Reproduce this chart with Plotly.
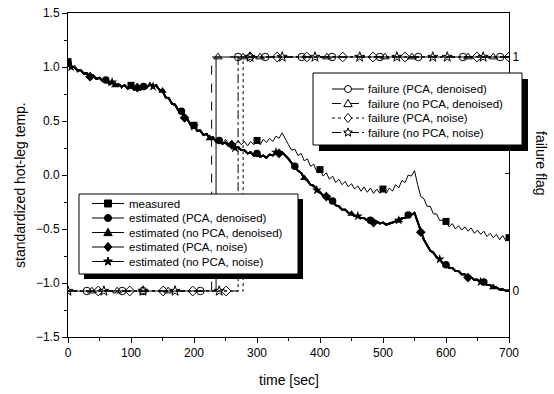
import math
import plotly.graph_objects as go

# ---------------- data ----------------
time = list(range(0, 701, 5))

estimated = [
    1.04, 1.00, 1.00, 0.97, 0.97, 0.94, 0.94, 0.91, 0.92, 0.89,
    0.90, 0.87, 0.88, 0.85, 0.86, 0.83, 0.84, 0.82, 0.83, 0.80,
    0.82, 0.79, 0.81, 0.79, 0.82, 0.81, 0.84, 0.82, 0.83, 0.79,
    0.78, 0.72, 0.71, 0.66, 0.65, 0.60, 0.59, 0.53, 0.51, 0.46,
    0.45, 0.41, 0.41, 0.37, 0.38, 0.34, 0.35, 0.31, 0.32, 0.29,
    0.30, 0.27, 0.28, 0.25, 0.26, 0.23, 0.23, 0.20, 0.21, 0.18,
    0.20, 0.17, 0.18, 0.16, 0.19, 0.18, 0.21, 0.20, 0.21, 0.18,
    0.15, 0.11, 0.08, 0.04, 0.02, -0.03, -0.05, -0.09, -0.10, -0.14,
    -0.16, -0.19, -0.20, -0.23, -0.24, -0.28, -0.29, -0.32, -0.32, -0.35,
    -0.36, -0.38, -0.38, -0.40, -0.40, -0.42, -0.42, -0.44, -0.43, -0.45,
    -0.44, -0.46, -0.45, -0.44, -0.43, -0.42, -0.40, -0.40, -0.37, -0.37,
    -0.35, -0.43, -0.53, -0.60, -0.65, -0.70, -0.72, -0.76, -0.78, -0.82,
    -0.83, -0.86, -0.86, -0.89, -0.89, -0.92, -0.92, -0.95, -0.95, -0.97,
    -0.97, -0.99, -0.99, -1.02, -1.02, -1.04, -1.04, -1.06, -1.06, -1.07,
    -1.07,
]

measured = [
    1.05, 0.98, 1.01, 0.95, 0.98, 0.93, 0.95, 0.89, 0.93, 0.88,
    0.91, 0.86, 0.89, 0.83, 0.87, 0.82, 0.85, 0.80, 0.84, 0.79,
    0.83, 0.78, 0.82, 0.78, 0.83, 0.80, 0.86, 0.81, 0.84, 0.78,
    0.79, 0.71, 0.72, 0.65, 0.66, 0.59, 0.60, 0.52, 0.52, 0.45,
    0.46, 0.40, 0.42, 0.36, 0.39, 0.33, 0.36, 0.31, 0.34, 0.29,
    0.33, 0.29, 0.32, 0.28, 0.32, 0.28, 0.31, 0.27, 0.31, 0.28,
    0.32, 0.28, 0.33, 0.30, 0.34, 0.31, 0.36, 0.34, 0.39, 0.33,
    0.28, 0.23, 0.24, 0.18, 0.20, 0.13, 0.15, 0.08, 0.10, 0.03,
    0.05, -0.01, 0.02, -0.04, -0.01, -0.07, -0.04, -0.09, -0.06, -0.11,
    -0.08, -0.13, -0.10, -0.15, -0.11, -0.16, -0.12, -0.17, -0.13, -0.17,
    -0.13, -0.17, -0.12, -0.15, -0.09, -0.12, -0.05, -0.07, 0.00, -0.01,
    0.04, -0.09, -0.20, -0.22, -0.29, -0.29, -0.36, -0.36, -0.42, -0.42,
    -0.43, -0.48, -0.45, -0.50, -0.47, -0.51, -0.48, -0.52, -0.49, -0.54,
    -0.51, -0.55, -0.52, -0.57, -0.54, -0.58, -0.55, -0.60, -0.56, -0.61,
    -0.58,
]

# failure flag series: time at which the flag switches from 0 to 1
fail_time_pca_den = 235
fail_time_nopca_den = 228
fail_time_pca_noise = 278
fail_time_nopca_noise = 270

# sampled times shown with symbols on each failure flag series
fail_marks_pca_den = [30, 86, 119, 210, 270, 313, 371, 419, 495, 556, 627, 686]
fail_marks_nopca_den = [38, 78, 159, 238, 278, 305, 411, 503, 546, 635, 675]
fail_marks_pca_noise = [48, 98, 151, 198, 251, 289, 332, 379, 436, 484, 535, 649, 700]
fail_marks_nopca_noise = [0, 57, 119, 170, 240, 289, 340, 392, 463, 522, 579, 602, 659]

legend1_names = ["measured", "estimated (PCA, denoised)", "estimated (no PCA, denoised)",
                 "estimated (PCA, noise)", "estimated (no PCA, noise)"]
legend2_names = ["failure (PCA, denoised)", "failure (no PCA, denoised)",
                 "failure (PCA, noise)", "failure (no PCA, noise)"]

x_ticks = [0, 100, 200, 300, 400, 500, 600, 700]
y_ticks = [-1.5, -1.0, -0.5, 0.0, 0.5, 1.0, 1.5]

# ---------------- figure ----------------
W, H = 554, 394
L, R, T, B = 68, 45, 13, 57
PW, PH = W - L - R, H - T - B


def px2x(px):
    return (px - L) / PW


def px2y(py):
    return (H - B - py) / PH


FONT = "Arial, Liberation Sans, sans-serif"
fig = go.Figure()

# estimated curves (4 overlapping variants) with symbols every few samples
est_styles = [
    ("circle", 0, 12),
    ("triangle-up", 0, 15),
    ("diamond", 7, 15),
    ("star", 1, 13),
]
for sym, off, step in est_styles:
    fig.add_trace(go.Scatter(x=time, y=estimated, mode="lines",
                             line=dict(color="black", width=1.8), showlegend=False,
                             hoverinfo="skip"))
for sym, off, step in est_styles:
    idx = list(range(off, len(time), step))
    fig.add_trace(go.Scatter(x=[time[i] for i in idx], y=[estimated[i] for i in idx],
                             mode="markers", showlegend=False, hoverinfo="skip",
                             marker=dict(symbol=sym, size=7.5, color="black",
                                         line=dict(width=0))))

# measured
fig.add_trace(go.Scatter(x=time, y=measured, mode="lines",
                         line=dict(color="black", width=1), showlegend=False))
idx = list(range(0, len(time), 20))
fig.add_trace(go.Scatter(x=[time[i] for i in idx], y=[measured[i] for i in idx],
                         mode="markers", showlegend=False,
                         marker=dict(symbol="square", size=7, color="black")))

# failure flags (right axis)
fail_specs = [
    (fail_time_pca_den, fail_marks_pca_den, "solid", "circle"),
    (fail_time_nopca_den, fail_marks_nopca_den, "dash", "triangle-up"),
    (fail_time_pca_noise, fail_marks_pca_noise, "dot", "diamond"),
    (fail_time_nopca_noise, fail_marks_nopca_noise, "dashdot", "star"),
]
for ft, marks, dash, sym in fail_specs:
    fig.add_trace(go.Scatter(x=[0, ft, 700], y=[0, 1, 1], mode="lines", line_shape="hv",
                             line=dict(color="black", width=1, dash=dash),
                             yaxis="y2", showlegend=False))
for ft, marks, dash, sym in fail_specs:
    fig.add_trace(go.Scatter(x=marks, y=[1 if m >= ft else 0 for m in marks], mode="markers",
                             yaxis="y2", showlegend=False,
                             marker=dict(symbol=sym + "-open", size=7.5, color="black",
                                         line=dict(width=1, color="black"))))

# ---------------- hand-drawn legends (shapes + annotations) ----------------
shapes = []
annotations = []


def pt(px, py):
    return f"{px2x(px):.6f},{px2y(py):.6f}"


def glyph(sym, cx, cy, s, filled):
    fill = "black" if filled else "white"
    base = dict(xref="paper", yref="paper", layer="above", fillcolor=fill,
                line=dict(color="black", width=1))
    if sym == "square":
        return dict(type="rect", x0=px2x(cx - s / 2), x1=px2x(cx + s / 2),
                    y0=px2y(cy + s / 2), y1=px2y(cy - s / 2), **base)
    if sym == "circle":
        return dict(type="circle", x0=px2x(cx - s / 2), x1=px2x(cx + s / 2),
                    y0=px2y(cy + s / 2), y1=px2y(cy - s / 2), **base)
    if sym == "triangle-up":
        pts = [(cx, cy - 0.6 * s), (cx + 0.6 * s, cy + 0.45 * s), (cx - 0.6 * s, cy + 0.45 * s)]
    elif sym == "diamond":
        pts = [(cx, cy - 0.65 * s), (cx + 0.55 * s, cy), (cx, cy + 0.65 * s), (cx - 0.55 * s, cy)]
    else:  # star
        pts = []
        for k in range(10):
            r = 0.65 * s if k % 2 == 0 else 0.27 * s
            a = -math.pi / 2 + k * math.pi / 5
            pts.append((cx + r * math.cos(a), cy + r * math.sin(a)))
    path = "M" + " L".join(pt(x, y) for x, y in pts) + " Z"
    return dict(type="path", path=path, **base)


def draw_legend(box, names, syms, dashes, filled, rows, line_x, text_x, shadow):
    x0, x1, y0, y1 = box
    shapes.append(dict(type="rect", xref="paper", yref="paper", layer="above",
                       x0=px2x(x0 + shadow), x1=px2x(x1 + shadow),
                       y0=px2y(y1 + shadow), y1=px2y(y0 + shadow),
                       fillcolor="black", line=dict(width=0)))
    shapes.append(dict(type="rect", xref="paper", yref="paper", layer="above",
                       x0=px2x(x0), x1=px2x(x1), y0=px2y(y1), y1=px2y(y0),
                       fillcolor="white", line=dict(color="black", width=1)))
    for name, sym, dash, cy in zip(names, syms, dashes, rows):
        shapes.append(dict(type="line", xref="paper", yref="paper", layer="above",
                           x0=px2x(line_x[0]), x1=px2x(line_x[1]), y0=px2y(cy), y1=px2y(cy),
                           line=dict(color="black", width=1, dash=dash)))
        shapes.append(glyph(sym, (line_x[0] + line_x[1]) / 2, cy, 7, filled))
        annotations.append(dict(text=name, x=px2x(text_x), y=px2y(cy), xref="paper",
                                yref="paper", showarrow=False, xanchor="left",
                                yanchor="middle",
                                font=dict(family=FONT, size=11.5, color="black")))


draw_legend((79, 298, 194, 274), legend1_names,
            ["square", "circle", "triangle-up", "diamond", "star"],
            ["solid"] * 5, True, [203.5, 218, 232.5, 247, 261.5], (92, 124), 127, 5)
draw_legend((313, 522, 73, 145), legend2_names,
            [s[3] for s in fail_specs], [s[2] for s in fail_specs], False,
            [89, 103.5, 118, 132.5], (332, 364), 366, 6)

annotations += [
    dict(text="time [sec]", x=0.5, y=px2y(380), xref="paper", yref="paper",
         showarrow=False, font=dict(family=FONT, size=14), xanchor="center", yanchor="middle"),
    dict(text="standardized hot-leg temp.", x=px2x(20), y=px2y(185), xref="paper", yref="paper",
         showarrow=False, textangle=-90, font=dict(family=FONT, size=14),
         xanchor="center", yanchor="middle"),
    dict(text="failure flag", x=px2x(541), y=px2y(163), xref="paper", yref="paper",
         showarrow=False, textangle=90, font=dict(family=FONT, size=14),
         xanchor="center", yanchor="middle"),
]

axis_common = dict(showline=True, linecolor="black", linewidth=1, showgrid=False,
                   zeroline=False, tickfont=dict(family=FONT, size=12, color="black"),
                   ticks="outside", ticklen=5, tickcolor="black", tickwidth=1)

fig.update_layout(
    width=W, height=H, margin=dict(l=L, r=R, t=T, b=B, autoexpand=False),
    paper_bgcolor="white", plot_bgcolor="white",
    font=dict(family=FONT, color="black"),
    xaxis=dict(range=[0, 700], tickvals=x_ticks, mirror=True,
               minor=dict(dtick=50, ticks="outside", ticklen=3, tickcolor="black"),
               **axis_common),
    yaxis=dict(range=[-1.5, 1.5], tickvals=y_ticks, tickformat=".1f",
               minor=dict(dtick=0.25, ticks="outside", ticklen=3, tickcolor="black"),
               **axis_common),
    yaxis2=dict(overlaying="y", side="right", range=[-0.1966, 1.188],
                showline=True, linecolor="black", linewidth=1, showgrid=False,
                zeroline=False, tickvals=[0, 0.5, 1], ticktext=["0", "", "1"],
                ticks="inside", ticklen=4, tickcolor="black",
                tickfont=dict(family=FONT, size=12, color="black")),
    shapes=shapes,
    annotations=annotations,
    showlegend=False,
)

fig.write_html("out.html")
